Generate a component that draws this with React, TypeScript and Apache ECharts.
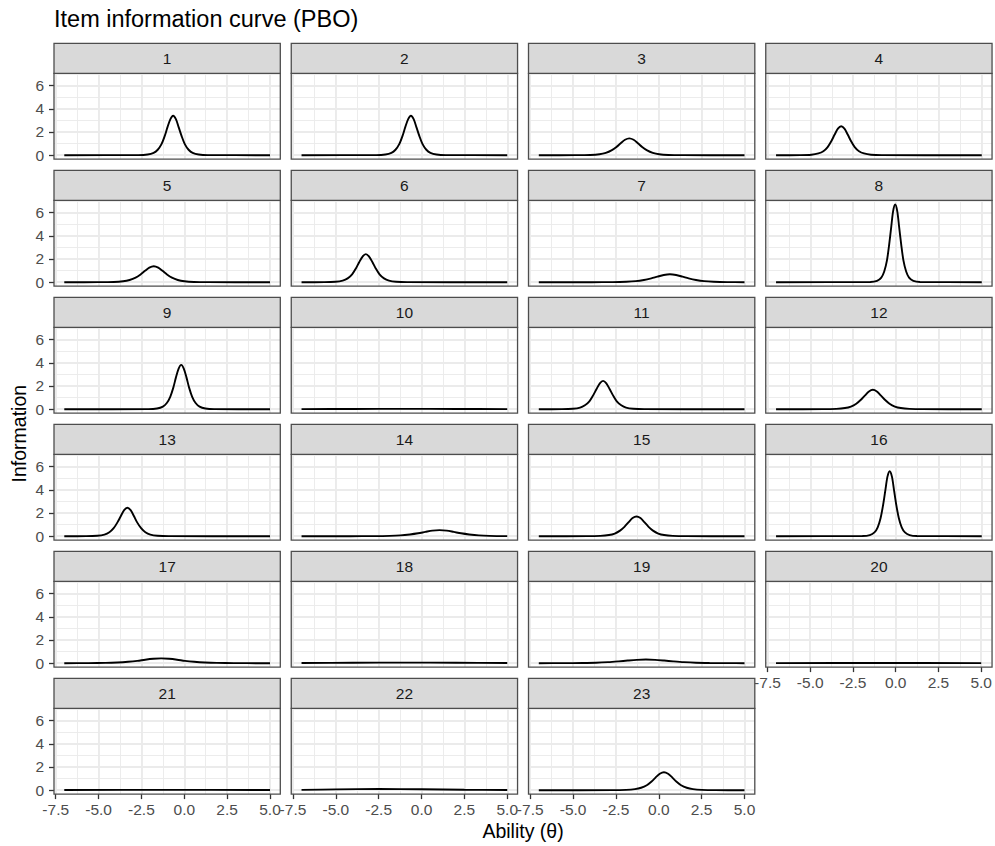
import React, { useEffect, useRef } from "react";
import * as echarts from "echarts";

type Pt = [number, number];

// ---------- data ----------
const itemLabels = ["1","2","3","4","5","6","7","8","9","10","11","12","13","14","15","16","17","18","19","20","21","22","23"];

const item01: Pt[] = [[-7,0],[-2.68,0.01],[-2.14,0.06],[-1.79,0.2],[-1.55,0.47],[-1.33,0.95],[-1.14,1.66],[-0.98,2.42],[-0.81,3.11],[-0.65,3.4],[-0.49,3.11],[-0.33,2.42],[-0.16,1.66],[0.03,0.95],[0.25,0.47],[0.49,0.2],[0.84,0.06],[1.38,0.01],[5,0]];
const item02: Pt[] = [[-7,0],[-2.65,0.01],[-2.11,0.06],[-1.76,0.2],[-1.52,0.47],[-1.3,0.95],[-1.11,1.66],[-0.95,2.42],[-0.78,3.11],[-0.62,3.4],[-0.46,3.11],[-0.3,2.42],[-0.13,1.66],[0.06,0.95],[0.28,0.47],[0.52,0.2],[0.87,0.06],[1.41,0.01],[5,0]];
const item03: Pt[] = [[-7,0],[-4.83,0.003],[-4,0.02],[-3.46,0.08],[-3.09,0.2],[-2.76,0.41],[-2.47,0.71],[-2.22,1.03],[-1.97,1.33],[-1.72,1.45],[-1.47,1.33],[-1.22,1.03],[-0.97,0.71],[-0.68,0.41],[-0.35,0.2],[0.02,0.08],[0.56,0.02],[1.39,0.003],[5,0]];
const item04: Pt[] = [[-7,0],[-5.57,0.006],[-4.94,0.04],[-4.53,0.15],[-4.24,0.34],[-3.99,0.7],[-3.77,1.22],[-3.58,1.78],[-3.39,2.29],[-3.2,2.5],[-3.01,2.29],[-2.82,1.78],[-2.63,1.22],[-2.41,0.7],[-2.16,0.34],[-1.87,0.15],[-1.46,0.04],[-0.83,0.006],[5,0]];
const item05: Pt[] = [[-7,0],[-4.97,0.003],[-4.12,0.02],[-3.57,0.08],[-3.19,0.19],[-2.84,0.39],[-2.55,0.67],[-2.29,0.98],[-2.04,1.26],[-1.78,1.38],[-1.52,1.26],[-1.27,0.98],[-1.01,0.67],[-0.72,0.39],[-0.38,0.19],[0.01,0.08],[0.56,0.02],[1.41,0.003],[5,0]];
const item06: Pt[] = [[-7,0],[-5.66,0.005],[-5.02,0.04],[-4.6,0.14],[-4.31,0.33],[-4.05,0.68],[-3.83,1.18],[-3.64,1.72],[-3.44,2.21],[-3.25,2.42],[-3.06,2.21],[-2.86,1.72],[-2.67,1.18],[-2.45,0.68],[-2.19,0.33],[-1.9,0.14],[-1.48,0.04],[-0.84,0.005],[5,0]];
const item07: Pt[] = [[-7,0],[-3.9,0.002],[-2.69,0.01],[-1.9,0.04],[-1.35,0.09],[-0.87,0.19],[-0.44,0.33],[-0.08,0.48],[0.29,0.62],[0.65,0.68],[1.01,0.62],[1.38,0.48],[1.74,0.33],[2.17,0.19],[2.65,0.09],[3.2,0.04],[3.99,0.01],[5,0.002]];
const item08: Pt[] = [[-7,0],[-1.5,0.015],[-1.11,0.11],[-0.86,0.39],[-0.69,0.92],[-0.53,1.88],[-0.4,3.26],[-0.28,4.77],[-0.17,6.13],[-0.05,6.7],[0.07,6.13],[0.18,4.77],[0.3,3.26],[0.43,1.88],[0.59,0.92],[0.76,0.39],[1.01,0.11],[1.4,0.015],[5,0]];
const item09: Pt[] = [[-7,0],[-2.1,0.008],[-1.59,0.06],[-1.25,0.22],[-1.02,0.53],[-0.82,1.07],[-0.64,1.86],[-0.49,2.72],[-0.33,3.5],[-0.18,3.82],[-0.03,3.5],[0.13,2.72],[0.28,1.86],[0.46,1.07],[0.66,0.53],[0.89,0.22],[1.23,0.06],[1.74,0.008],[5,0]];
const item10: Pt[] = [[-7,0.01],[-4,0.02],[-1,0.03],[2,0.02],[5,0.01]];
const item11: Pt[] = [[-7,0],[-5.65,0.005],[-5.01,0.04],[-4.59,0.14],[-4.31,0.34],[-4.05,0.68],[-3.83,1.19],[-3.63,1.74],[-3.44,2.23],[-3.25,2.44],[-3.06,2.23],[-2.87,1.74],[-2.67,1.19],[-2.45,0.68],[-2.19,0.34],[-1.91,0.14],[-1.49,0.04],[-0.85,0.005],[5,0]];
const item12: Pt[] = [[-7,0],[-4.25,0.004],[-3.48,0.03],[-2.98,0.1],[-2.63,0.23],[-2.32,0.47],[-2.05,0.81],[-1.81,1.19],[-1.58,1.53],[-1.35,1.67],[-1.12,1.53],[-0.89,1.19],[-0.65,0.81],[-0.38,0.47],[-0.07,0.23],[0.28,0.1],[0.78,0.03],[1.55,0.004],[5,0]];
const item13: Pt[] = [[-7,0],[-5.72,0.005],[-5.08,0.04],[-4.66,0.14],[-4.37,0.34],[-4.12,0.69],[-3.9,1.19],[-3.7,1.74],[-3.51,2.24],[-3.32,2.45],[-3.13,2.24],[-2.94,1.74],[-2.75,1.19],[-2.52,0.69],[-2.27,0.34],[-1.98,0.14],[-1.56,0.04],[-0.92,0.005],[5,0]];
const item14: Pt[] = [[-7,0],[-4.15,0.001],[-2.76,0.008],[-1.86,0.03],[-1.24,0.07],[-0.68,0.15],[-0.2,0.25],[0.22,0.37],[0.63,0.48],[1.05,0.52],[1.47,0.48],[1.88,0.37],[2.3,0.25],[2.78,0.15],[3.34,0.07],[3.96,0.03],[5,0.007]];
const item15: Pt[] = [[-7,0],[-4.18,0.004],[-3.41,0.03],[-2.91,0.1],[-2.57,0.23],[-2.26,0.48],[-1.99,0.83],[-1.76,1.21],[-1.53,1.56],[-1.3,1.7],[-1.07,1.56],[-0.84,1.21],[-0.61,0.83],[-0.34,0.48],[-0.03,0.23],[0.31,0.1],[0.81,0.03],[1.58,0.004],[5,0]];
const item16: Pt[] = [[-7,0],[-1.96,0.012],[-1.53,0.09],[-1.26,0.33],[-1.07,0.77],[-0.9,1.57],[-0.75,2.73],[-0.62,3.99],[-0.5,5.13],[-0.37,5.6],[-0.24,5.13],[-0.12,3.99],[0.01,2.73],[0.16,1.57],[0.33,0.77],[0.52,0.33],[0.79,0.09],[1.22,0.012],[5,0]];
const item17: Pt[] = [[-7,0.001],[-5.59,0.007],[-4.59,0.024],[-3.9,0.06],[-3.28,0.12],[-2.74,0.2],[-2.28,0.3],[-1.81,0.38],[-1.35,0.42],[-0.89,0.38],[-0.42,0.3],[0.04,0.2],[0.58,0.12],[1.2,0.06],[1.89,0.024],[2.89,0.007],[4.44,0.001],[5,0]];
const item18: Pt[] = [[-7,0.02],[-4,0.04],[-1,0.05],[2,0.04],[5,0.02]];
const item19: Pt[] = [[-7,0.001],[-5.61,0.005],[-4.46,0.019],[-3.67,0.04],[-2.96,0.09],[-2.34,0.16],[-1.81,0.23],[-1.28,0.29],[-0.75,0.32],[-0.22,0.29],[0.31,0.23],[0.84,0.16],[1.46,0.09],[2.17,0.04],[2.96,0.019],[4.11,0.005],[5,0.002]];
const item20: Pt[] = [[-7,0.01],[-1,0.02],[5,0.01]];
const item21: Pt[] = [[-7,0.02],[-1,0.03],[5,0.02]];
const item22: Pt[] = [[-7,0.03],[-5,0.07],[-2.5,0.1],[0,0.08],[2.5,0.04],[5,0.02]];
const item23: Pt[] = [[-7,0],[-2.71,0.003],[-1.91,0.025],[-1.39,0.09],[-1.03,0.21],[-0.7,0.43],[-0.42,0.75],[-0.18,1.1],[0.06,1.42],[0.3,1.55],[0.54,1.42],[0.78,1.1],[1.02,0.75],[1.3,0.43],[1.63,0.21],[1.99,0.09],[2.51,0.025],[3.31,0.003],[5,0]];

const itemCurves: Pt[][] = [item01,item02,item03,item04,item05,item06,item07,item08,item09,item10,item11,item12,item13,item14,item15,item16,item17,item18,item19,item20,item21,item22,item23];

const xBreaks = [-7.5, -5, -2.5, 0, 2.5, 5];
const xMinorBreaks = [-6.25, -3.75, -1.25, 1.25, 3.75];
const yBreaks = [0, 2, 4, 6];
const yMinorBreaks = [1, 3, 5, 7];
const xLimits = [-7.6, 5.6];
const yLimits = [-0.336, 7.056];

const titleText = "Item information curve (PBO)";
const xTitle = "Ability (θ)";
const yTitle = "Information";

// ---------- layout ----------
const W = 995;
const H = 846;
const NCOL = 4;
const LEFT0 = 54;
const PITCH_X = 237.25;
const PANEL_W = 226.3;
const TOP0 = 73.3;
const PITCH_Y = 127;
const PANEL_H = 85.8;
const STRIP_H = 30;
const FONT = "'Liberation Sans', Arial, Helvetica, sans-serif";

export default function App() {
  const ref = useRef<HTMLDivElement>(null);

  useEffect(() => {
    if (!ref.current) return;
    const chart = echarts.init(ref.current, undefined, { renderer: "svg" });
    const n = itemCurves.length;

    const grids: any[] = [];
    const xAxes: any[] = [];
    const yAxes: any[] = [];
    const series: any[] = [];
    const graphics: any[] = [];

    const gridLineData = [
      ...xMinorBreaks.map((v) => ({ xAxis: v, lineStyle: { color: "#EBEBEB", width: 0.95, type: "solid" } })),
      ...yMinorBreaks.map((v) => ({ yAxis: v, lineStyle: { color: "#EBEBEB", width: 0.95, type: "solid" } })),
      ...xBreaks.map((v) => ({ xAxis: v, lineStyle: { color: "#EBEBEB", width: 1.9, type: "solid" } })),
      ...yBreaks.map((v) => ({ yAxis: v, lineStyle: { color: "#EBEBEB", width: 1.9, type: "solid" } })),
    ];

    for (let i = 0; i < n; i++) {
      const r = Math.floor(i / NCOL);
      const c = i % NCOL;
      const left = LEFT0 + PITCH_X * c;
      const top = TOP0 + PITCH_Y * r;
      const isBottom = i + NCOL >= n;
      const isLeft = c === 0;

      grids.push({
        left,
        top,
        width: PANEL_W,
        height: PANEL_H,
        show: true,
        backgroundColor: "#ffffff",
        borderWidth: 0,
      });

      xAxes.push({
        type: "value",
        gridIndex: i,
        position: "bottom",
        min: xLimits[0],
        max: xLimits[1],
        axisLine: { show: false, onZero: false },
        splitLine: { show: false },
        axisTick: {
          show: isBottom,
          customValues: xBreaks,
          length: 5,
          lineStyle: { color: "#333333", width: 1.3 },
        },
        axisLabel: {
          show: isBottom,
          customValues: xBreaks,
          formatter: (v: number) => v.toFixed(1),
          color: "#4D4D4D",
          fontSize: 15.5,
          fontFamily: FONT,
          margin: 7,
        },
      });

      yAxes.push({
        type: "value",
        gridIndex: i,
        position: "left",
        min: yLimits[0],
        max: yLimits[1],
        axisLine: { show: false, onZero: false },
        splitLine: { show: false },
        axisTick: {
          show: isLeft,
          customValues: yBreaks,
          length: 5,
          lineStyle: { color: "#333333", width: 1.3 },
        },
        axisLabel: {
          show: isLeft,
          customValues: yBreaks,
          formatter: (v: number) => String(v),
          color: "#4D4D4D",
          fontSize: 15.5,
          fontFamily: FONT,
          margin: 10,
        },
      });

      series.push({
        type: "line",
        xAxisIndex: i,
        yAxisIndex: i,
        data: itemCurves[i],
        showSymbol: false,
        symbol: "none",
        smooth: 0.3,
        clip: true,
        z: 3,
        silent: true,
        lineStyle: { color: "#000000", width: 1.9 },
        emphasis: { disabled: true },
        markLine: {
          silent: true,
          symbol: ["none", "none"],
          label: { show: false },
          z: 1,
          animation: false,
          emphasis: { disabled: true },
          lineStyle: { type: "solid" },
          data: gridLineData,
        },
      });

      // panel border
      graphics.push({
        type: "rect",
        shape: { x: left, y: top, width: PANEL_W, height: PANEL_H },
        style: { fill: "none", stroke: "#4D4D4D", lineWidth: 1.3 },
        z: 100,
        silent: true,
      });
      // strip
      graphics.push({
        type: "rect",
        shape: { x: left, y: top - STRIP_H, width: PANEL_W, height: STRIP_H },
        style: { fill: "#D9D9D9", stroke: "#4D4D4D", lineWidth: 1.3 },
        z: 100,
        silent: true,
      });
      graphics.push({
        type: "text",
        x: left + PANEL_W / 2,
        y: top - STRIP_H / 2,
        style: {
          text: itemLabels[i],
          fill: "#1A1A1A",
          fontSize: 15.5,
          fontFamily: FONT,
          align: "center",
          verticalAlign: "middle",
        },
        z: 101,
        silent: true,
      });
    }

    const lastRow = Math.floor((n - 1) / NCOL);
    const panelsRight = LEFT0 + PITCH_X * (NCOL - 1) + PANEL_W;
    const panelsBottom = TOP0 + PITCH_Y * lastRow + PANEL_H;

    graphics.push({
      type: "text",
      x: LEFT0,
      y: 19,
      style: {
        text: titleText,
        fill: "#000000",
        fontSize: 23.5,
        fontFamily: FONT,
        align: "left",
        verticalAlign: "middle",
      },
      z: 101,
    });
    graphics.push({
      type: "text",
      x: (LEFT0 + panelsRight) / 2,
      y: 831,
      style: {
        text: xTitle,
        fill: "#000000",
        fontSize: 19.5,
        fontFamily: FONT,
        align: "center",
        verticalAlign: "middle",
      },
      z: 101,
    });
    graphics.push({
      type: "text",
      x: 19,
      y: (TOP0 + panelsBottom) / 2,
      rotation: Math.PI / 2,
      style: {
        text: yTitle,
        fill: "#000000",
        fontSize: 19.5,
        fontFamily: FONT,
        align: "center",
        verticalAlign: "middle",
      },
      z: 101,
    });

    chart.setOption({
      animation: false,
      backgroundColor: "#ffffff",
      textStyle: { fontFamily: FONT },
      grid: grids,
      xAxis: xAxes,
      yAxis: yAxes,
      series,
      graphic: graphics,
    });

    return () => {
      chart.dispose();
    };
  }, []);

  return (
    <div
      ref={ref}
      style={{ position: "fixed", left: 0, top: 0, width: W, height: H, background: "#ffffff" }}
    />
  );
}
